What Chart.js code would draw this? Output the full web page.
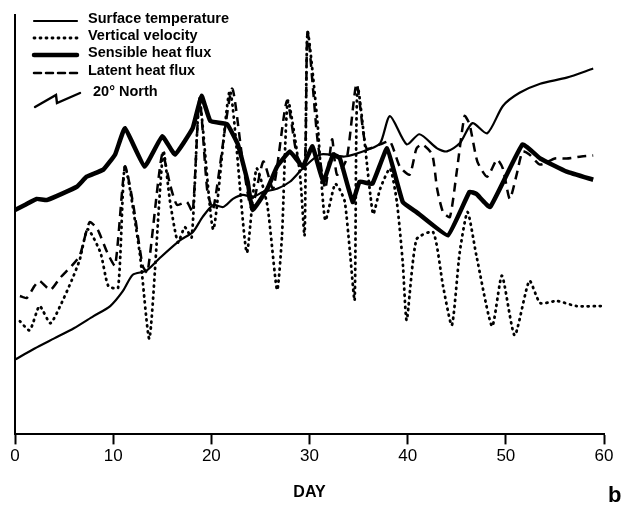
<!DOCTYPE html>
<html>
<head>
<meta charset="utf-8">
<script src="https://cdn.jsdelivr.net/npm/chart.js@4.4.0/dist/chart.umd.min.js"></script>
<style>
  html, body { margin: 0; padding: 0; background: #fff; }
  #wrap { width: 628px; height: 508px; position: relative; }
</style>
</head>
<body>
<div id="wrap"><canvas id="chart"></canvas></div>
<script>
// days along the x axis and the value read for each series (arbitrary units, no y scale in the original)
const tempDays = [0, 2.0, 4.0, 6.0, 8.0, 9.7, 11.0, 12.0, 13.4, 14.8, 16.8, 18.1, 19.1, 20.2, 21.2, 22.2, 23.2, 24.2, 25.3, 26.7, 28.0, 29.3, 31.1, 33.6, 36.0, 37.2, 38.2, 39.9, 41.2, 43.0, 44.0, 45.3, 46.6, 48.1, 49.7, 51.4, 53.5, 56.2, 58.9];
const tempVals = [74, 85, 95, 105, 117, 127, 142, 158, 162, 175, 192, 200, 215, 227, 225, 233, 237, 235, 240, 243, 250, 263, 277, 275, 282, 288, 315, 287, 297, 283, 280, 288, 308, 298, 325, 338, 347, 353, 362];

const velDays = [0.5, 1.5, 2.5, 3.6, 4.6, 5.8, 6.6, 7.4, 8.7, 9.5, 10.5, 11.2, 12.7, 13.7, 15.1, 15.8, 16.6, 17.3, 18.0, 18.8, 20.2, 21.9, 23.6, 24.6, 25.7, 26.7, 27.2, 27.8, 29.0, 29.5, 29.8, 30.8, 31.6, 32.6, 33.1, 33.6, 34.1, 34.6, 34.9, 36.2, 36.5, 37.2, 38.2, 38.9, 39.5, 39.9, 40.9, 42.6, 43.6, 44.5, 45.3, 46.1, 47.0, 48.6, 49.6, 50.9, 52.4, 53.5, 55.2, 57.2, 59.9];
const velVals = [112, 103, 127, 110, 127, 153, 173, 203, 180, 147, 145, 265, 180, 95, 280, 230, 190, 205, 195, 330, 203, 340, 180, 263, 227, 143, 197, 330, 260, 197, 398, 310, 212, 248, 242, 230, 183, 133, 343, 237, 218, 243, 263, 230, 170, 113, 193, 200, 147, 108, 180, 220, 177, 107, 157, 98, 152, 130, 132, 127, 127];

const sensDays = [0, 1.0, 2.2, 3.3, 6.3, 7.3, 9.0, 10.2, 11.2, 13.2, 15.0, 16.3, 18.1, 19.0, 19.9, 21.6, 22.7, 23.7, 24.2, 25.7, 26.7, 28.0, 29.3, 30.3, 31.4, 32.4, 33.1, 34.4, 35.1, 36.4, 37.9, 39.5, 40.9, 44.1, 46.3, 47.0, 48.4, 51.7, 53.5, 56.2, 58.9];
const sensVals = [222, 227, 233, 232, 245, 255, 262, 277, 303, 265, 295, 277, 303, 335, 310, 307, 287, 250, 222, 243, 265, 280, 265, 285, 250, 277, 273, 230, 250, 248, 283, 230, 220, 197, 240, 238, 225, 287, 273, 260, 252];

const latDays = [0.5, 1.2, 2.0, 2.5, 3.6, 4.6, 5.8, 6.6, 7.6, 8.4, 9.4, 10.2, 11.2, 12.0, 13.0, 13.5, 15.0, 15.8, 16.5, 17.5, 18.1, 18.8, 19.6, 20.2, 22.1, 23.2, 24.1, 25.3, 26.3, 27.7, 28.7, 29.5, 29.8, 30.8, 31.6, 32.3, 32.8, 33.8, 34.8, 35.8, 37.2, 38.2, 39.2, 40.2, 40.9, 41.5, 42.5, 43.0, 43.6, 44.3, 45.0, 45.8, 46.3, 47.1, 48.1, 49.1, 49.7, 50.4, 51.1, 51.7, 52.4, 53.5, 55.0, 56.2, 57.7, 58.9];
const latVals = [137, 135, 147, 152, 143, 155, 167, 177, 210, 203, 180, 167, 265, 230, 167, 160, 278, 247, 227, 230, 220, 333, 240, 223, 342, 270, 223, 270, 243, 330, 277, 263, 398, 293, 243, 292, 257, 273, 347, 283, 287, 290, 265, 257, 283, 287, 277, 243, 220, 215, 260, 315, 307, 270, 255, 272, 263, 233, 257, 280, 277, 267, 273, 273, 275, 276];

const xTicks = [0, 10, 20, 30, 40, 50, 60];

const legendItems = [
  { label: 'Surface temperature', width: 2.2, dash: [] },
  { label: 'Vertical velocity', width: 2.8, dash: [1, 5] },
  { label: 'Sensible heat flux', width: 4.5, dash: [] },
  { label: 'Latent heat flux', width: 2.5, dash: [7, 5] }
];

function pts(days, vals) {
  return days.map((d, i) => ({ x: d, y: vals[i] }));
}

// hand drawn style legend in the upper left corner, plus the panel letter
const paperLegend = {
  id: 'paperLegend',
  afterDraw(chart) {
    const ctx = chart.ctx;
    ctx.save();
    ctx.strokeStyle = '#000';
    ctx.fillStyle = '#000';
    ctx.lineCap = 'round';
    ctx.font = 'bold 14.5px "Liberation Sans", Arial, sans-serif';
    ctx.textBaseline = 'middle';
    const rows = [19, 36, 53, 71];
    legendItems.forEach((it, i) => {
      ctx.lineWidth = it.width;
      ctx.setLineDash(it.dash);
      ctx.beginPath();
      ctx.moveTo(34, rows[i] + 2);
      ctx.lineTo(77, rows[i] + 2);
      ctx.stroke();
      ctx.fillText(it.label, 88, rows[i]);
    });
    // zigzag marker for the latitude
    ctx.setLineDash([]);
    ctx.lineWidth = 2.4;
    ctx.beginPath();
    ctx.moveTo(35, 107);
    ctx.lineTo(56, 95);
    ctx.lineTo(57, 103);
    ctx.lineTo(80, 93);
    ctx.stroke();
    ctx.fillText('20° North', 93, 92);
    ctx.font = 'bold 22px "Liberation Sans", Arial, sans-serif';
    ctx.fillText('b', 608, 496);
    ctx.restore();
  }
};

new Chart(document.getElementById('chart'), {
  type: 'line',
  data: {
    datasets: [
      { label: 'Surface temperature', data: pts(tempDays, tempVals), borderColor: '#000', borderWidth: 2.2, tension: 0.25, pointRadius: 0 },
      { label: 'Vertical velocity', data: pts(velDays, velVals), borderColor: '#000', borderWidth: 2.8, borderDash: [1, 5], borderCapStyle: 'round', tension: 0.2, pointRadius: 0 },
      { label: 'Sensible heat flux', data: pts(sensDays, sensVals), borderColor: '#000', borderWidth: 4.5, tension: 0.1, pointRadius: 0, borderJoinStyle: 'round' },
      { label: 'Latent heat flux', data: pts(latDays, latVals), borderColor: '#000', borderWidth: 2.5, borderDash: [9, 6], tension: 0.2, pointRadius: 0 }
    ]
  },
  options: {
    responsive: true,
    maintainAspectRatio: false,
    animation: false,
    devicePixelRatio: 1,
    layout: { padding: { left: 7, right: 24, top: 15, bottom: 6 } },
    plugins: { legend: { display: false }, tooltip: { enabled: false } },
    scales: {
      x: {
        type: 'linear',
        min: 0,
        max: 60,
        afterBuildTicks: axis => { axis.ticks = xTicks.map(v => ({ value: v })); },
        ticks: { color: '#000', font: { family: '"Liberation Sans", Arial, sans-serif', size: 17 }, padding: 2 },
        grid: { display: true, drawOnChartArea: false, drawTicks: true, tickLength: 10, tickColor: '#000', tickWidth: 2 },
        border: { display: true, color: '#000', width: 2 },
        title: { display: true, text: 'DAY', color: '#000', font: { family: '"Liberation Sans", Arial, sans-serif', size: 16, weight: 'bold' }, padding: { top: 14, bottom: 0 } }
      },
      y: {
        min: 0,
        max: 415,
        ticks: { display: false },
        grid: { display: false },
        border: { display: true, color: '#000', width: 2 }
      }
    }
  },
  plugins: [paperLegend]
});
</script>
</body>
</html>
